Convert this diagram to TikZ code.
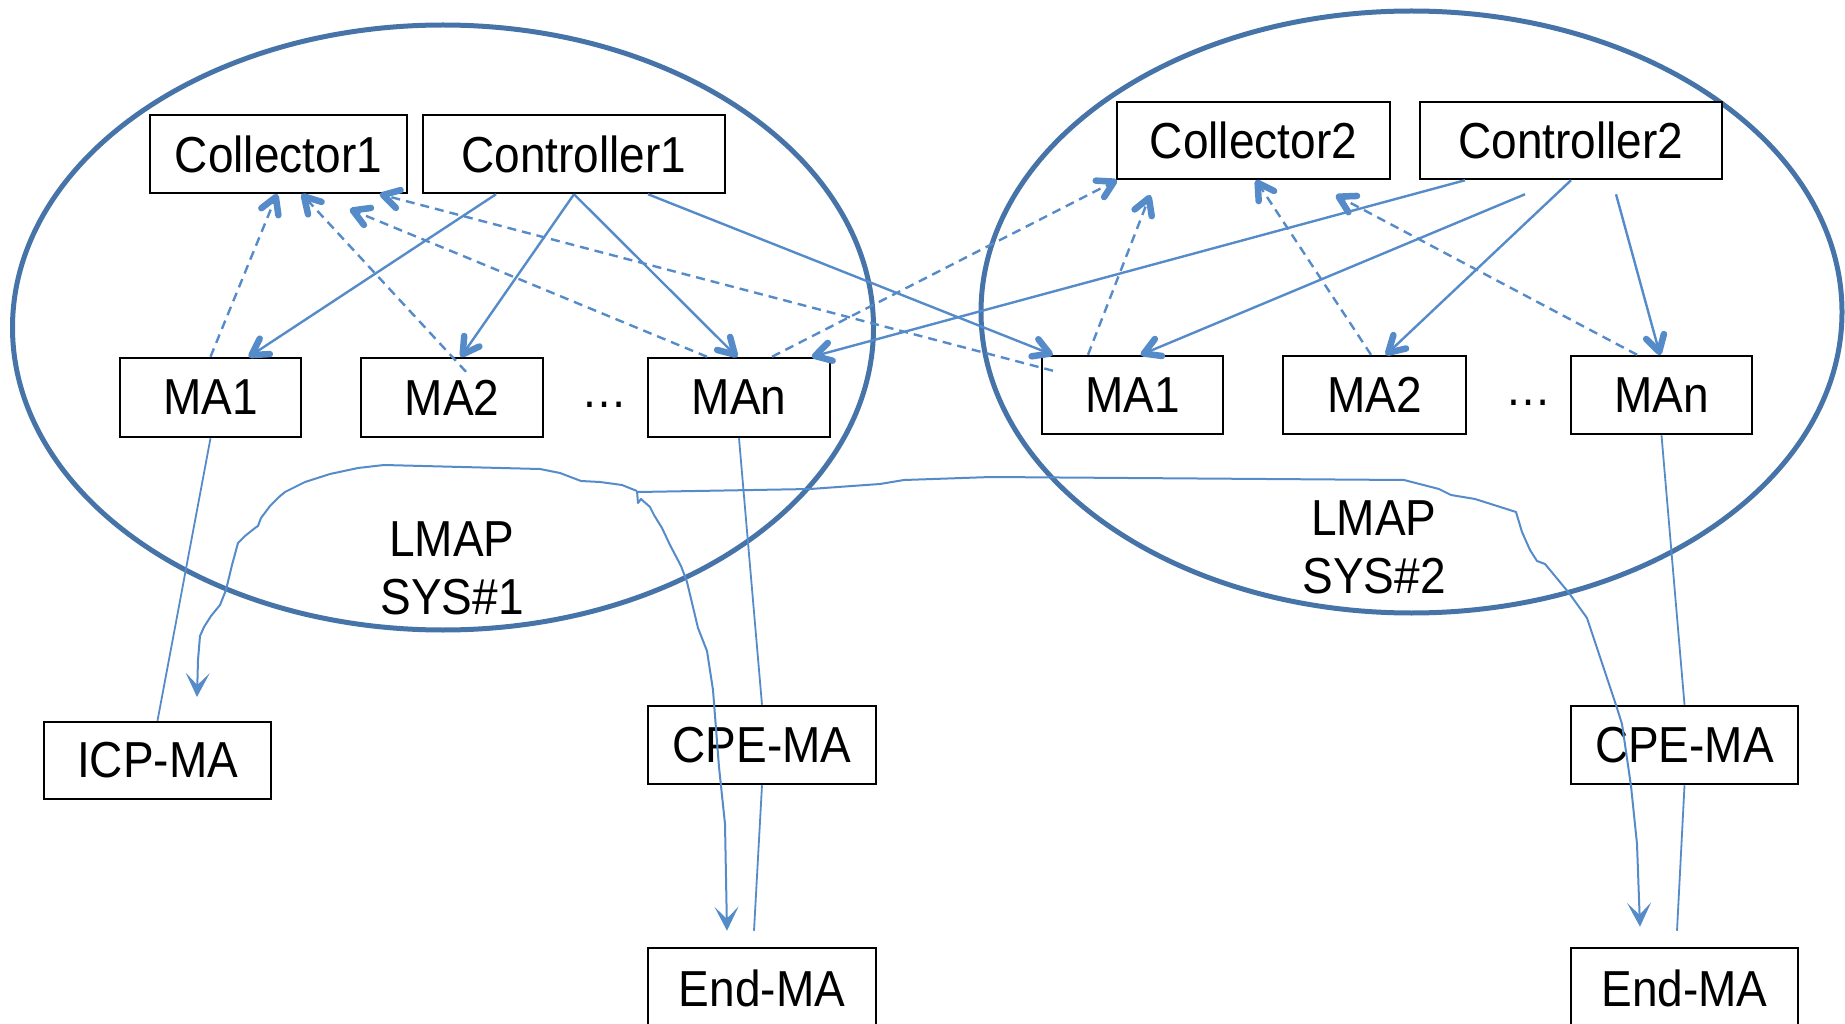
\documentclass[tikz,border=0pt]{standalone}
\usepackage{fontspec}
\setmainfont{Liberation Sans}
\usepackage{graphicx}
\usetikzlibrary{arrows.meta,calc,shapes.geometric}
\definecolor{ellc}{RGB}{70,116,168}
\definecolor{linc}{RGB}{86,139,201}
\newcommand{\tallt}[1]{\scalebox{1}[1.1]{#1}}
\begin{document}
\begin{tikzpicture}[x=1pt,y=-1pt,
  box/.style={draw=black, line width=2.5pt, fill=white, minimum height=78pt, inner sep=0pt, font=\fontsize{46}{52}\selectfont},
  plain/.style={inner sep=0pt, font=\fontsize{46}{52}\selectfont},
  lbl/.style={inner sep=0pt, align=center, font=\fontsize{46}{58}\selectfont},
  sysell/.style={draw=ellc, line width=5pt, ellipse, inner sep=0pt},
  conn/.style={draw=linc, line width=2.4pt},
  barbtip/.style={draw=linc, line width=6.5pt, line cap=round, line join=round},
  ctl/.style={conn},
  rep/.style={conn, dash pattern=on 9pt off 6pt},
  thin/.style={conn, line width=1.8pt},
  flow/.style={conn, line width=2pt, line join=round, -{Stealth[length=24pt,width=24pt,inset=12pt]}}]
\useasboundingbox (0,0) rectangle (1845,1024);

% systems
\node[sysell, minimum width=861pt, minimum height=605pt] (sys1) at (443,327.5) {};
\node[sysell, minimum width=861pt, minimum height=602pt] (sys2) at (1411.5,312) {};

% boxes system 1
\node[box, minimum width=257pt] (col1) at (278.5,154) {\tallt{Collector1}};
\node[box, minimum width=302pt] (ctl1) at (574,154) {\tallt{Controller1}};
\node[box, minimum width=181pt, minimum height=79pt] (ma11) at (210.5,397.5) {\tallt{MA1}};
\node[box, minimum width=182pt, minimum height=79pt] (ma12) at (452,397.5) {\tallt{MA2}};
\node[box, minimum width=182pt, minimum height=79pt] (ma1n) at (739,397.5) {\tallt{MAn}};
\node[plain] (dots1) at (604,405) {\tallt{…}};

% boxes system 2
\node[box, minimum width=273pt, minimum height=77pt] (col2) at (1253.5,140.5) {\tallt{Collector2}};
\node[box, minimum width=302pt, minimum height=77pt] (ctl2) at (1571,140.5) {\tallt{Controller2}};
\node[box, minimum width=181pt] (ma21) at (1132.5,395) {\tallt{MA1}};
\node[box, minimum width=183pt] (ma22) at (1374.5,395) {\tallt{MA2}};
\node[box, minimum width=181pt] (ma2n) at (1661.5,395) {\tallt{MAn}};
\node[plain] (dots2) at (1528,403) {\tallt{…}};

% lower boxes
\node[box, minimum width=227pt, minimum height=77pt] (icp) at (157.5,760.5) {\tallt{ICP-MA}};
\node[box, minimum width=228pt] (cpe1) at (762,745) {\tallt{CPE-MA}};
\node[box, minimum width=228pt, minimum height=80pt] (end1) at (762,988) {\tallt{End-MA}};
\node[box, minimum width=227pt] (cpe2) at (1684.5,745) {\tallt{CPE-MA}};
\node[box, minimum width=227pt, minimum height=80pt] (end2) at (1684.5,988) {\tallt{End-MA}};

% labels
\node[lbl] (lab1) at (452,568) {\tallt{LMAP}\\\tallt{SYS\#1}};
\node[lbl] (lab2) at (1374,547) {\tallt{LMAP}\\\tallt{SYS\#2}};

% connector with a bold open V head: #1 style, #2 start, #3 tip
\newcommand{\fatarrow}[3]{%
  \draw[#1] #2 -- #3;
  \path #2 -- #3
    coordinate[pos=1] (fa-tip)
    coordinate[pos=0] (fa-start);
  \draw[barbtip] ($(fa-tip)!21pt!26:(fa-start)$) -- ($(fa-tip)!3pt!(fa-start)$) -- ($(fa-tip)!21pt!-26:(fa-start)$);
}

% control (solid)
\fatarrow{ctl}{($(ctl1.south)+(-78,0)$)}{($(ma11.north)+(38.5,0)$)}
\fatarrow{ctl}{(ctl1.south)}{($(ma12.north)+(9,0)$)}
\fatarrow{ctl}{(ctl1.south)}{($(ma1n.north)+(-2,0)$)}
\fatarrow{ctl}{($(ctl1.south)+(74,0)$)}{($(ma21.north)+(-80,0)$)}
\fatarrow{ctl}{($(ctl2.south)+(-106,0)$)}{($(ma1n.north)+(73,0)$)}
\fatarrow{ctl}{($(ctl2.south)+(-46,14)$)}{($(ma21.north)+(8.5,0)$)}
\fatarrow{ctl}{(ctl2.south)}{($(ma22.north)+(11.5,0)$)}
\fatarrow{ctl}{($(ctl2.south)+(45,14)$)}{($(ma2n.north)+(-1.5,0)$)}

% reports (dashed)
\fatarrow{rep}{(ma11.north)}{($(col1.south)+(-1.5,0)$)}
\fatarrow{rep}{($(ma12.north)+(14,15)$)}{($(col1.south)+(23.5,0)$)}
\fatarrow{rep}{($(ma1n.north)+(-32,0)$)}{($(col1.south)+(71.5,15)$)}
\fatarrow{rep}{($(ma21.north)+(-79.5,16)$)}{($(col1.south)+(101.5,0)$)}
\fatarrow{rep}{($(ma1n.north)+(33,0)$)}{($(col2.south west)+(1,0)$)}
\fatarrow{rep}{($(ma21.north)+(-44.5,0)$)}{($(col2.south)+(-103.5,15)$)}
\fatarrow{rep}{($(ma22.north)+(-3.5,0)$)}{($(col2.south)+(2.5,0)$)}
\fatarrow{rep}{($(ma2n.north)+(-24.5,0)$)}{($(col2.south)+(82.5,15)$)}

% lower links
\draw[thin] (ma11.south) -- (icp.north);
\draw[thin] (ma1n.south) -- (cpe1.north);
\draw[thin] (cpe1.south) -- ($(end1.north)+(-8,-16)$);
\draw[thin] (ma2n.south) -- (cpe2.north);
\draw[thin] (cpe2.south) -- ($(end2.north)+(-7.5,-16)$);

% freehand traffic paths
\coordinate (J) at (637,491);
\coordinate (J2) at (638,492);
\coordinate (tipL) at (197,697);
\coordinate (tipE1) at ($(end1.north)+(-35,-16)$);
\coordinate (tipE2) at ($(end2.north)+(-44.5,-20)$);
\draw[flow] (J) -- (622,485) -- (600,482) -- (581,481) -- (560,473) -- (540,469) -- (384,465) -- (358,468) -- (330,474) -- (305,482) -- (285,492) -- (279,497) -- (270,506) -- (261,518) -- (258,526) -- (255,528) -- (245,536) -- (238,543) -- (232,565) -- (226,590) -- (220,605) -- (211,616) -- (204,627) -- (200,636) -- (198,660) -- (tipL);
\draw[flow] (J) -- (638,503) -- (641,499) -- (650,507) -- (654,515) -- (662,528) -- (670,545) -- (681,566) -- (687,582) -- (698,628) -- (707,651) -- (713,690) -- (719,767) -- (725,824) -- (tipE1);
\draw[flow] (J2) -- (810,489) -- (880,484) -- (904,480) -- (991,477) -- (1404,480) -- (1439,489) -- (1451,495) -- (1475,499) -- (1516,512) -- (1522,532) -- (1530,550) -- (1537,561) -- (1545,564) -- (1569,593) -- (1587,618) -- (1598,651) -- (1616,705) -- (1622,724) -- (1631,786) -- (1637,844) -- (tipE2);
\end{tikzpicture}
\end{document}
